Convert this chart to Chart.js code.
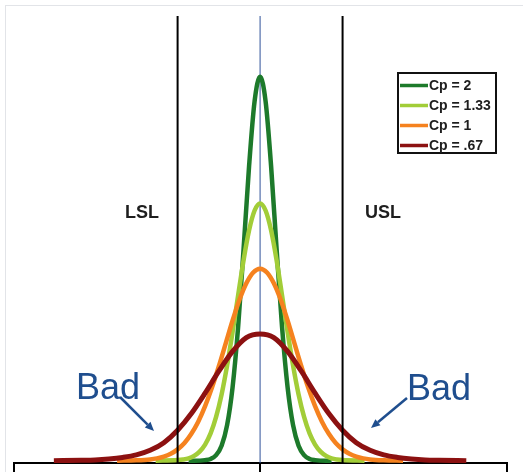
<!DOCTYPE html>
<html>
<head>
<meta charset="utf-8">
<script src="https://cdn.jsdelivr.net/npm/chart.js@4.4.1/dist/chart.umd.min.js"></script>
<style>
  html, body { margin: 0; padding: 0; background: #ffffff; }
  #wrap { position: relative; width: 523px; height: 472px; }
  #frame { position: absolute; left: 5px; top: 5px; width: 600px; height: 600px;
           border-top: 1px solid #e2e4e8; border-left: 1px solid #e2e4e8; pointer-events: none; }
  canvas { position: absolute; left: 0; top: 0; }
</style>
</head>
<body>
<div id="wrap">
  <canvas id="c" width="523" height="472"></canvas>
  <div id="frame"></div>
</div>
<script>
// ---- Data (x in spec units: LSL = -3, USL = +3; y = relative density, Cp=1 peak = 1) ----
const seriesLabels = ['Cp = 2', 'Cp = 1.33', 'Cp = 1', 'Cp = .67'];

const xCp2  = [-2.6, -2.4, -2.0, -1.8, -1.6, -1.4, -1.2, -1.0, -0.8, -0.6, -0.4, -0.2, 0,
               0.2, 0.4, 0.6, 0.8, 1.0, 1.2, 1.4, 1.6, 1.8, 2.0, 2.4, 2.6];
const yCp2  = [0, 0, 0.003, 0.009, 0.029, 0.078, 0.185, 0.383, 0.694, 1.103, 1.535, 1.872, 2.0,
               1.872, 1.535, 1.103, 0.694, 0.383, 0.185, 0.078, 0.029, 0.009, 0.003, 0, 0];

const xCp133 = [-3.8, -3.0, -2.8, -2.6, -2.4, -2.2, -2.0, -1.8, -1.6, -1.4, -1.2, -1.0, -0.8, -0.6, -0.4, -0.2, 0,
                0.2, 0.4, 0.6, 0.8, 1.0, 1.2, 1.4, 1.6, 1.8, 2.0, 2.2, 2.4, 2.6, 2.8, 3.0, 3.8];
const yCp133 = [0, 0.003, 0.006, 0.012, 0.025, 0.047, 0.084, 0.142, 0.228, 0.345, 0.495, 0.671, 0.860, 1.045, 1.200, 1.303, 1.34,
                1.303, 1.200, 1.045, 0.860, 0.671, 0.495, 0.345, 0.228, 0.142, 0.084, 0.047, 0.025, 0.012, 0.006, 0.003, 0];

const xCp1 = [-5.2, -4.5, -4.0, -3.75, -3.5, -3.25, -3.0, -2.75, -2.5, -2.25, -2.0, -1.75, -1.5, -1.25, -1.0, -0.75, -0.5, -0.25, 0,
              0.25, 0.5, 0.75, 1.0, 1.25, 1.5, 1.75, 2.0, 2.25, 2.5, 2.75, 3.0, 3.25, 3.5, 3.75, 4.0, 4.5, 5.2];
const yCp1 = [0, 0.002, 0.0065, 0.012, 0.021, 0.036, 0.059, 0.092, 0.140, 0.203, 0.284, 0.381, 0.492, 0.611, 0.730, 0.838, 0.924, 0.980, 1.0,
              0.980, 0.924, 0.838, 0.730, 0.611, 0.492, 0.381, 0.284, 0.203, 0.140, 0.092, 0.059, 0.036, 0.021, 0.012, 0.0065, 0.002, 0];

const xCp067 = [-7.5, -6.5, -6.0, -5.5, -5.0, -4.5, -4.0, -3.5, -3.0, -2.5, -2.0, -1.5, -1.0, -0.5, 0,
                0.5, 1.0, 1.5, 2.0, 2.5, 3.0, 3.5, 4.0, 4.5, 5.0, 5.5, 6.0, 6.5, 7.5];
const yCp067 = [0, 0.002, 0.004, 0.009, 0.017, 0.030, 0.054, 0.094, 0.159, 0.246, 0.352, 0.466, 0.569, 0.641, 0.660,
                0.641, 0.569, 0.466, 0.352, 0.246, 0.159, 0.094, 0.054, 0.030, 0.017, 0.009, 0.004, 0.002, 0];

const specLimits = { LSL: -3, target: 0, USL: 3 };
const xRange = [-8.95, 8.98];
const yRange = [-0.012, 2.316];

// ---- Styles ----
const colors = ['#1d7a2b', '#a2cd38', '#f5821f', '#8c1111'];
const FONT = "'Liberation Sans', Arial, Helvetica, sans-serif";
const textDark = '#1e1e1e';
const badBlue = '#1f4e8e';

function pts(xs, ys) { return xs.map((x, i) => ({ x: x, y: ys[i] })); }
function vline(x) { return [{ x: x, y: yRange[0] }, { x: x, y: yRange[1] }]; }

const curveXs = [xCp2, xCp133, xCp1, xCp067];
const curveYs = [yCp2, yCp133, yCp1, yCp067];
const orders = [4, 3, 2, 1];
const widths = [4.5, 4.5, 4.5, 5];

const datasets = seriesLabels.map((lab, i) => ({
  label: lab,
  data: pts(curveXs[i], curveYs[i]),
  borderColor: colors[i],
  borderWidth: widths[i],
  pointRadius: 0,
  cubicInterpolationMode: 'monotone',
  fill: false,
  order: orders[i],
  isCurve: true
}));

datasets.push({ label: 'LSL', data: vline(specLimits.LSL), borderColor: '#000', borderWidth: 2, pointRadius: 0, order: 0 });
datasets.push({ label: 'USL', data: vline(specLimits.USL), borderColor: '#000', borderWidth: 2, pointRadius: 0, order: 0 });
datasets.push({ label: 'Target', data: vline(specLimits.target), borderColor: '#2f519a', borderWidth: 1, pointRadius: 0, order: 5 });

const decor = {
  id: 'decor',
  afterDatasetsDraw(chart) {
    const ctx = chart.ctx;
    ctx.save();
    // Spec labels
    ctx.fillStyle = textDark;
    ctx.font = 'bold 18px ' + FONT;
    ctx.textAlign = 'center';
    ctx.textBaseline = 'alphabetic';
    ctx.fillText('LSL', 142, 218);
    ctx.fillText('USL', 383, 218);

    // Bad labels
    ctx.fillStyle = badBlue;
    ctx.font = '36px ' + FONT;
    ctx.textAlign = 'left';
    ctx.fillText('Bad', 76, 398.5);
    ctx.fillText('Bad', 407, 400);

    // Arrows
    function arrow(x1, y1, x2, y2) {
      ctx.strokeStyle = badBlue;
      ctx.fillStyle = badBlue;
      ctx.lineWidth = 2.5;
      const a = Math.atan2(y2 - y1, x2 - x1);
      const L = 9, W = 4;
      const bx = x2 - L * Math.cos(a), by = y2 - L * Math.sin(a);
      ctx.beginPath(); ctx.moveTo(x1, y1); ctx.lineTo(bx, by); ctx.stroke();
      ctx.beginPath();
      ctx.moveTo(x2, y2);
      ctx.lineTo(bx + W * Math.sin(a), by - W * Math.cos(a));
      ctx.lineTo(bx - W * Math.sin(a), by + W * Math.cos(a));
      ctx.closePath(); ctx.fill();
    }
    arrow(120, 397, 154, 431);
    arrow(407, 398, 371, 428);

    // Legend box
    const bx = 398, by = 73, bw = 98, bh = 80;
    ctx.fillStyle = '#ffffff';
    ctx.fillRect(bx, by, bw, bh);
    ctx.strokeStyle = '#111';
    ctx.lineWidth = 2;
    ctx.strokeRect(bx, by, bw, bh);
    ctx.font = 'bold 14px ' + FONT;
    ctx.textBaseline = 'middle';
    ctx.textAlign = 'left';
    chart.data.datasets.filter(d => d.isCurve).forEach((d, i) => {
      const yy = 85.5 + i * 20;
      ctx.strokeStyle = d.borderColor;
      ctx.lineWidth = 3.5;
      ctx.beginPath(); ctx.moveTo(400, yy); ctx.lineTo(428, yy); ctx.stroke();
      ctx.fillStyle = textDark;
      ctx.fillText(d.label, 429, yy + 0.5);
    });
    ctx.restore();
  }
};

new Chart(document.getElementById('c'), {
  type: 'line',
  data: { datasets: datasets },
  options: {
    responsive: false,
    animation: false,
    parsing: true,
    layout: { padding: { left: 14, right: 16, top: 16, bottom: 0 } },
    plugins: { legend: { display: false }, tooltip: { enabled: false } },
    scales: {
      x: {
        type: 'linear',
        min: xRange[0],
        max: xRange[1],
        afterBuildTicks(scale) {
          scale.ticks = [{ value: xRange[0] }, { value: specLimits.target }, { value: xRange[1] }];
        },
        ticks: { display: false },
        grid: { drawOnChartArea: false, drawTicks: true, tickLength: 9, color: '#000', lineWidth: 2 },
        border: { display: true, color: '#000', width: 2 }
      },
      y: {
        type: 'linear',
        display: false,
        min: yRange[0],
        max: yRange[1]
      }
    }
  },
  plugins: [decor]
});
</script>
</body>
</html>
